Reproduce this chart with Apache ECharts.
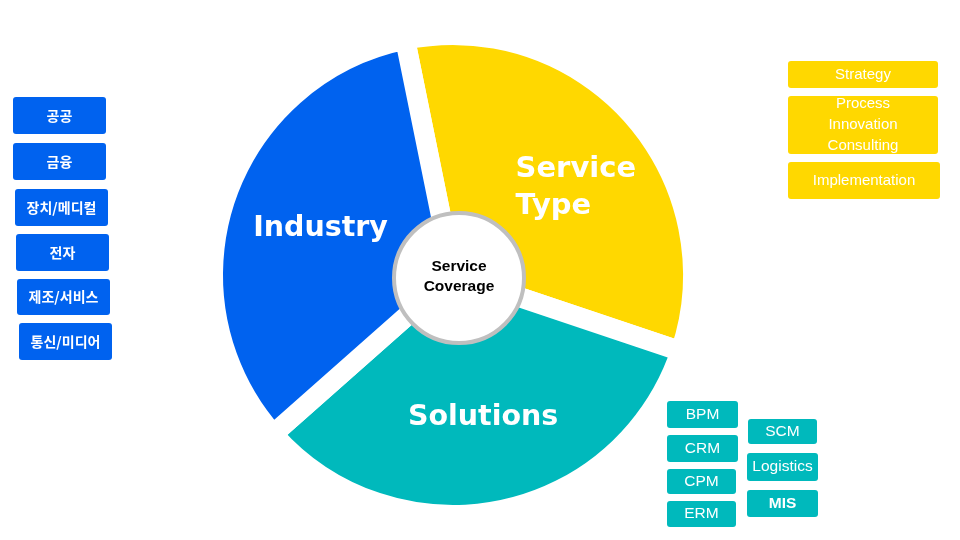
<!DOCTYPE html>
<html>
<head>
<meta charset="utf-8">
<script src="https://cdn.jsdelivr.net/npm/echarts@6/dist/echarts.min.js"></script>
<style>
  html, body { margin: 0; padding: 0; background: #fff; }
  #chart { width: 960px; height: 540px; }
</style>
</head>
<body>
<div id="chart"></div>
<script>
// 파이 조각 (시계방향, 위쪽부터)
var sliceNames = ['Service\nType', 'Solutions', 'Industry'];
var sliceValues = [1, 1, 1];   // 세 조각 모두 같은 크기

// 옆 상자 텍스트
var industryItems = ['공공', '금융', '장치/메디컬', '전자', '제조/서비스', '통신/미디어'];
var serviceItems = ['Strategy', 'Process\nInnovation\nConsulting', 'Implementation'];
var solutionItemsLeft = ['BPM', 'CRM', 'CPM', 'ERM'];
var solutionItemsRight = ['SCM', 'Logistics', 'MIS'];
var centerTitle = 'Service\nCoverage';

// 색상
var BLUE = '#0062EF', YELLOW = '#FFD800', TEAL = '#00B9BC';
var sliceColors = [YELLOW, TEAL, BLUE];

// 상자 위치 [x, y, w, h]
var industryBoxes = [[13,97,93,37],[13,143,93,37],[15,189,93,37],[16,234,93,37],[17,279,93,36],[19,323,93,37]];
var serviceBoxes = [[788,61,150,27],[788,96,150,58],[788,162,152,37]];
var solutionBoxesLeft = [[667,401,71,27],[667,435,71,27],[667,469,69,25],[667,501,69,26]];
var solutionBoxesRight = [[748,419,69,25],[747,453,71,28],[747,490,71,27]];

var LATIN = 'Liberation Sans';

function makeBoxes(items, boxes, color, family, size, bold) {
	var out = [];
	for (var i = 0; i < items.length; i++) {
		var b = boxes[i];
		out.push({
			type: 'rect', z: 100,
			shape: { x: b[0], y: b[1], width: b[2], height: b[3], r: 3 },
			style: { fill: color }
		});
		out.push({
			type: 'text', z: 101,
			x: b[0] + b[2] / 2, y: b[1] + b[3] / 2,
			style: {
				text: items[i], fill: '#fff', align: 'center', verticalAlign: 'middle',
				fontFamily: family, fontSize: size, lineHeight: 21,
				fontWeight: bold === true || (bold && bold[i]) ? 'bold' : 'normal'
			}
		});
	}
	return out;
}

var pieData = [];
for (var i = 0; i < sliceNames.length; i++) {
	var item = { name: sliceNames[i], value: sliceValues[i], itemStyle: { color: sliceColors[i] } };
	if (i == 0) {
		// Service Type 은 왼쪽 정렬
		item.label = {
			formatter: '{a|Service}\n{a|Type}',
			padding: [20, 0, 0, 27],
			rich: { a: { align: 'left', color: '#fff', fontFamily: 'DejaVu Sans', fontWeight: 'bold', fontSize: 29, lineHeight: 37 } }
		};
	} else if (i == 2) {
		item.label = { padding: [12, 0, 0, 12] };
	} else {
		item.label = { padding: [6, 0, 0, 2] };
	}
	pieData.push(item);
}

var graphics = [];
graphics = graphics.concat(makeBoxes(industryItems, industryBoxes, BLUE, 'Noto Sans CJK KR', 14, true));
graphics = graphics.concat(makeBoxes(serviceItems, serviceBoxes, YELLOW, LATIN, 15));
graphics = graphics.concat(makeBoxes(solutionItemsLeft, solutionBoxesLeft, TEAL, LATIN, 15.5));
graphics = graphics.concat(makeBoxes(solutionItemsRight, solutionBoxesRight, TEAL, LATIN, 15.5, [false, false, true]));
// 가운데 원
graphics.push({
	type: 'circle', z: 100,
	shape: { cx: 459, cy: 278, r: 65 },
	style: { fill: '#fff', stroke: '#BFBFBF', lineWidth: 4 }
});
graphics.push({
	type: 'text', z: 101, x: 459, y: 277,
	style: {
		text: centerTitle, fill: '#000', align: 'center', verticalAlign: 'middle',
		fontFamily: LATIN, fontWeight: 'bold', fontSize: 15.5, lineHeight: 20
	}
});

var myChart = echarts.init(document.getElementById('chart'));
var option = {
	animation: false,
	backgroundColor: '#fff',
	series: [{
		type: 'pie',
		center: [453, 275],
		radius: [46, 240],
		startAngle: 101.5,
		clockwise: true,
		silent: true,
		itemStyle: { borderColor: '#fff', borderWidth: 20 },
		label: {
			show: true,
			position: 'inside',
			color: '#fff',
			fontFamily: 'DejaVu Sans',
			fontWeight: 'bold',
			fontSize: 28.5,
			lineHeight: 37
		},
		labelLine: { show: false },
		data: pieData
	}],
	graphic: graphics
};
myChart.setOption(option);
</script>
</body>
</html>
